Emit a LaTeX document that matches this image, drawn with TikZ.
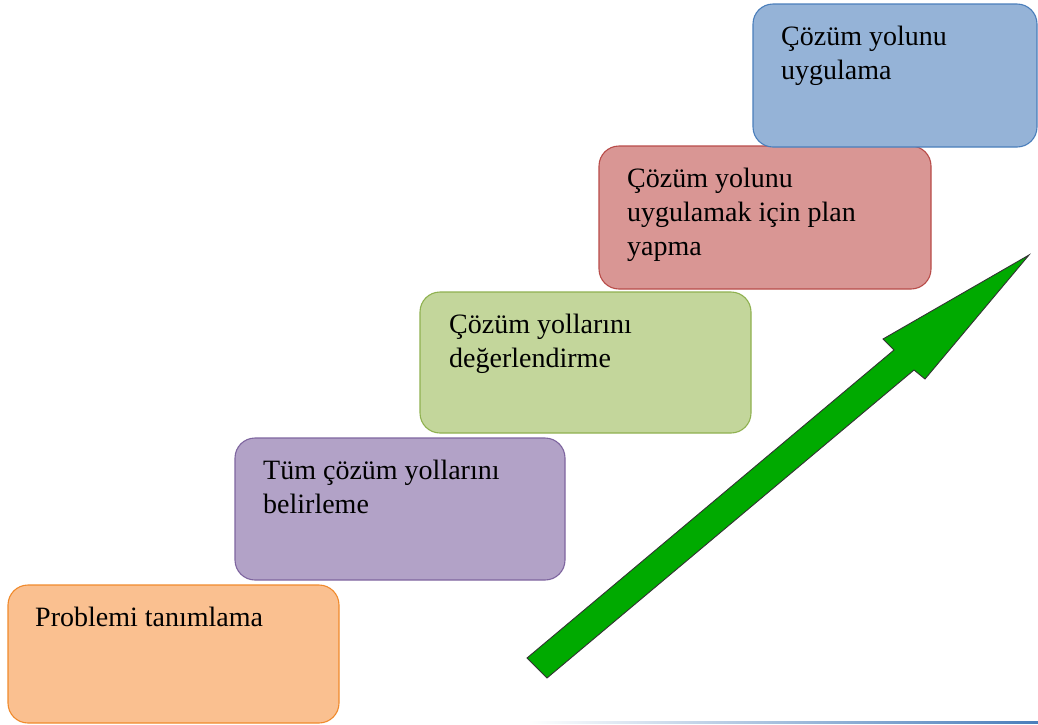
\documentclass[tikz,border=0pt]{standalone}
\usepackage{fontspec}
\setmainfont{Liberation Serif}
\definecolor{orfill}{HTML}{FAC090}\definecolor{ordraw}{HTML}{F08A2C}
\definecolor{pufill}{HTML}{B2A2C7}\definecolor{pudraw}{HTML}{7E659F}
\definecolor{grfill}{HTML}{C3D69B}\definecolor{grdraw}{HTML}{8FB150}
\definecolor{refill}{HTML}{D99694}\definecolor{redraw}{HTML}{B84C49}
\definecolor{blfill}{HTML}{95B3D7}\definecolor{bldraw}{HTML}{4A7EBB}
\definecolor{arrgreen}{HTML}{00AA00}
\tikzset{
  stepbox/.style={rectangle, rounded corners=20pt, line width=1.1pt, anchor=north west, inner sep=0pt, outer sep=0pt},
  steptext/.style={anchor=north west, inner sep=0pt, align=left, font=\fontsize{28}{34}\selectfont}
}
\begin{document}
\begin{tikzpicture}[x=1pt,y=-1pt]
\useasboundingbox (0,0) rectangle (1038,724);
% bottom line
\shade[left color=white, right color=bldraw] (528,721) rectangle (1038,723.5);
% boxes
\node[stepbox, fill=orfill, draw=ordraw, minimum width=331pt, minimum height=138pt] (b1) at (8,585) {};
\node[stepbox, fill=pufill, draw=pudraw, minimum width=330pt, minimum height=142pt] (b2) at (235,438) {};
\node[stepbox, fill=grfill, draw=grdraw, minimum width=331pt, minimum height=141pt] (b3) at (420,292) {};
\node[stepbox, fill=refill, draw=redraw, minimum width=332pt, minimum height=143pt] (b4) at (599,146) {};
\node[stepbox, fill=blfill, draw=bldraw, minimum width=284pt, minimum height=143pt] (b5) at (753,4) {};
% texts
\node[steptext] (t1) at ([shift={(27pt,-17pt)}]b1.north west) {\strut Problemi tanımlama};
\node[steptext] (t2) at ([shift={(28pt,-17pt)}]b2.north west) {\strut Tüm çözüm yollarını\\belirleme};
\node[steptext] (t3) at ([shift={(29pt,-17pt)}]b3.north west) {\strut Çözüm yollarını\\değerlendirme};
\node[steptext] (t4) at ([shift={(28pt,-17pt)}]b4.north west) {\strut Çözüm yolunu\\uygulamak için plan\\yapma};
\node[steptext] (t5) at ([shift={(28pt,-17pt)}]b5.north west) {\strut Çözüm yolunu\\uygulama};
% arrow
\coordinate (a1) at (527,658);
\coordinate (a2) at (894,350);
\coordinate (a3) at (883,339);
\coordinate (a4) at (1029,255);
\coordinate (a5) at (925,379);
\coordinate (a6) at (914,370);
\coordinate (a7) at (547,678);
\draw[fill=arrgreen, draw=black!80, line width=0.9pt, line join=miter]
  (a1) -- (a2) -- (a3) -- (a4) -- (a5) -- (a6) -- (a7) -- cycle;
\end{tikzpicture}
\end{document}
